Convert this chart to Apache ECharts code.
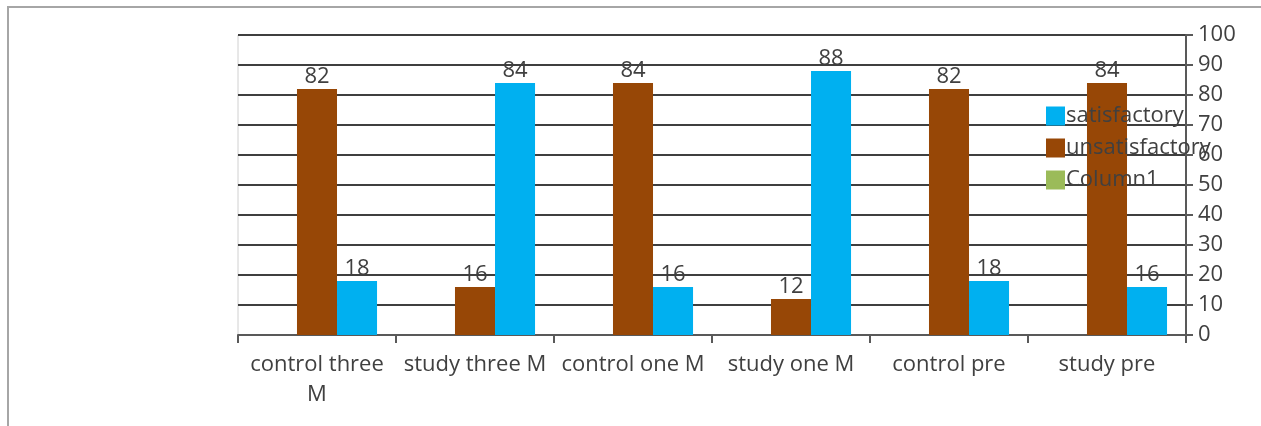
<!DOCTYPE html>
<html>
<head>
<meta charset="utf-8">
<script src="https://cdn.jsdelivr.net/npm/echarts@6/dist/echarts.min.js"></script>
<style>
  html, body { margin: 0; padding: 0; background: #fff; }
  #frame { position: absolute; left: 7px; top: 6px; width: 1260px; height: 430px;
           border-left: 2px solid #a6a6a6; border-top: 2px solid #a6a6a6; box-sizing: border-box; }
  #chart { position: absolute; left: 0; top: 0; width: 1261px; height: 426px; }
</style>
</head>
<body>
<div id="frame"></div>
<div id="chart"></div>
<script>
// Category labels along the bottom axis
const categories = ['control three\nM', 'study three M', 'control one M', 'study one M', 'control pre', 'study pre'];
// Percentages per group
const satisfactory = [18, 84, 16, 88, 18, 16];
const unsatisfactory = [82, 16, 84, 12, 82, 84];
const column1 = [0, 0, 0, 0, 0, 0];
// Value axis ticks
const yTicks = [0, 10, 20, 30, 40, 50, 60, 70, 80, 90, 100];

const FONT = 'Open Sans';
const TEXT = '#404040';
const SIZE = 22;

const chart = echarts.init(document.getElementById('chart'), null, { renderer: 'canvas' });

const labelStyle = {
  show: true, position: 'top', distance: 1,
  color: TEXT, fontFamily: FONT, fontSize: SIZE
};

chart.setOption({
  animation: false,
  backgroundColor: 'transparent',
  grid: { left: 238, right: 75, top: 35, bottom: 91, containLabel: false,
          show: true, borderColor: '#d0d0d0', borderWidth: 1 },
  legend: {
    data: ['satisfactory', 'unsatisfactory', 'Column1'],
    orient: 'vertical', left: 1041, top: 100,
    itemWidth: 19, itemHeight: 19, itemGap: 10,
    icon: 'rect',
    textStyle: { color: TEXT, fontFamily: FONT, fontSize: SIZE, padding: [0, 0, 0, -4] }
  },
  xAxis: {
    type: 'category', data: categories,
    axisLine: { show: true, lineStyle: { color: '#595959', width: 2 } },
    axisTick: { show: true, length: 8, lineStyle: { color: '#595959', width: 2 } },
    axisLabel: { color: TEXT, fontFamily: FONT, fontSize: SIZE, margin: 15, lineHeight: 30, interval: 0 }
  },
  yAxis: {
    type: 'value', position: 'right', min: yTicks[0], max: yTicks[yTicks.length - 1], interval: 10,
    axisLine: { show: true, lineStyle: { color: '#595959', width: 2 } },
    axisTick: { show: true, inside: false, length: 7, lineStyle: { color: '#595959', width: 2 } },
    axisLabel: { color: TEXT, fontFamily: FONT, fontSize: SIZE, margin: 12 },
    splitLine: { show: true, lineStyle: { color: '#3f3f3f', width: 2 } }
  },
  series: [
    { name: 'Column1', type: 'bar', data: column1, itemStyle: { color: '#9bbb59' },
      barGap: '0%', barCategoryGap: '24%' },
    { name: 'unsatisfactory', type: 'bar', data: unsatisfactory, itemStyle: { color: '#974706' },
      label: labelStyle },
    { name: 'satisfactory', type: 'bar', data: satisfactory, itemStyle: { color: '#00b0f0' },
      label: labelStyle }
  ]
});
</script>
</body>
</html>
